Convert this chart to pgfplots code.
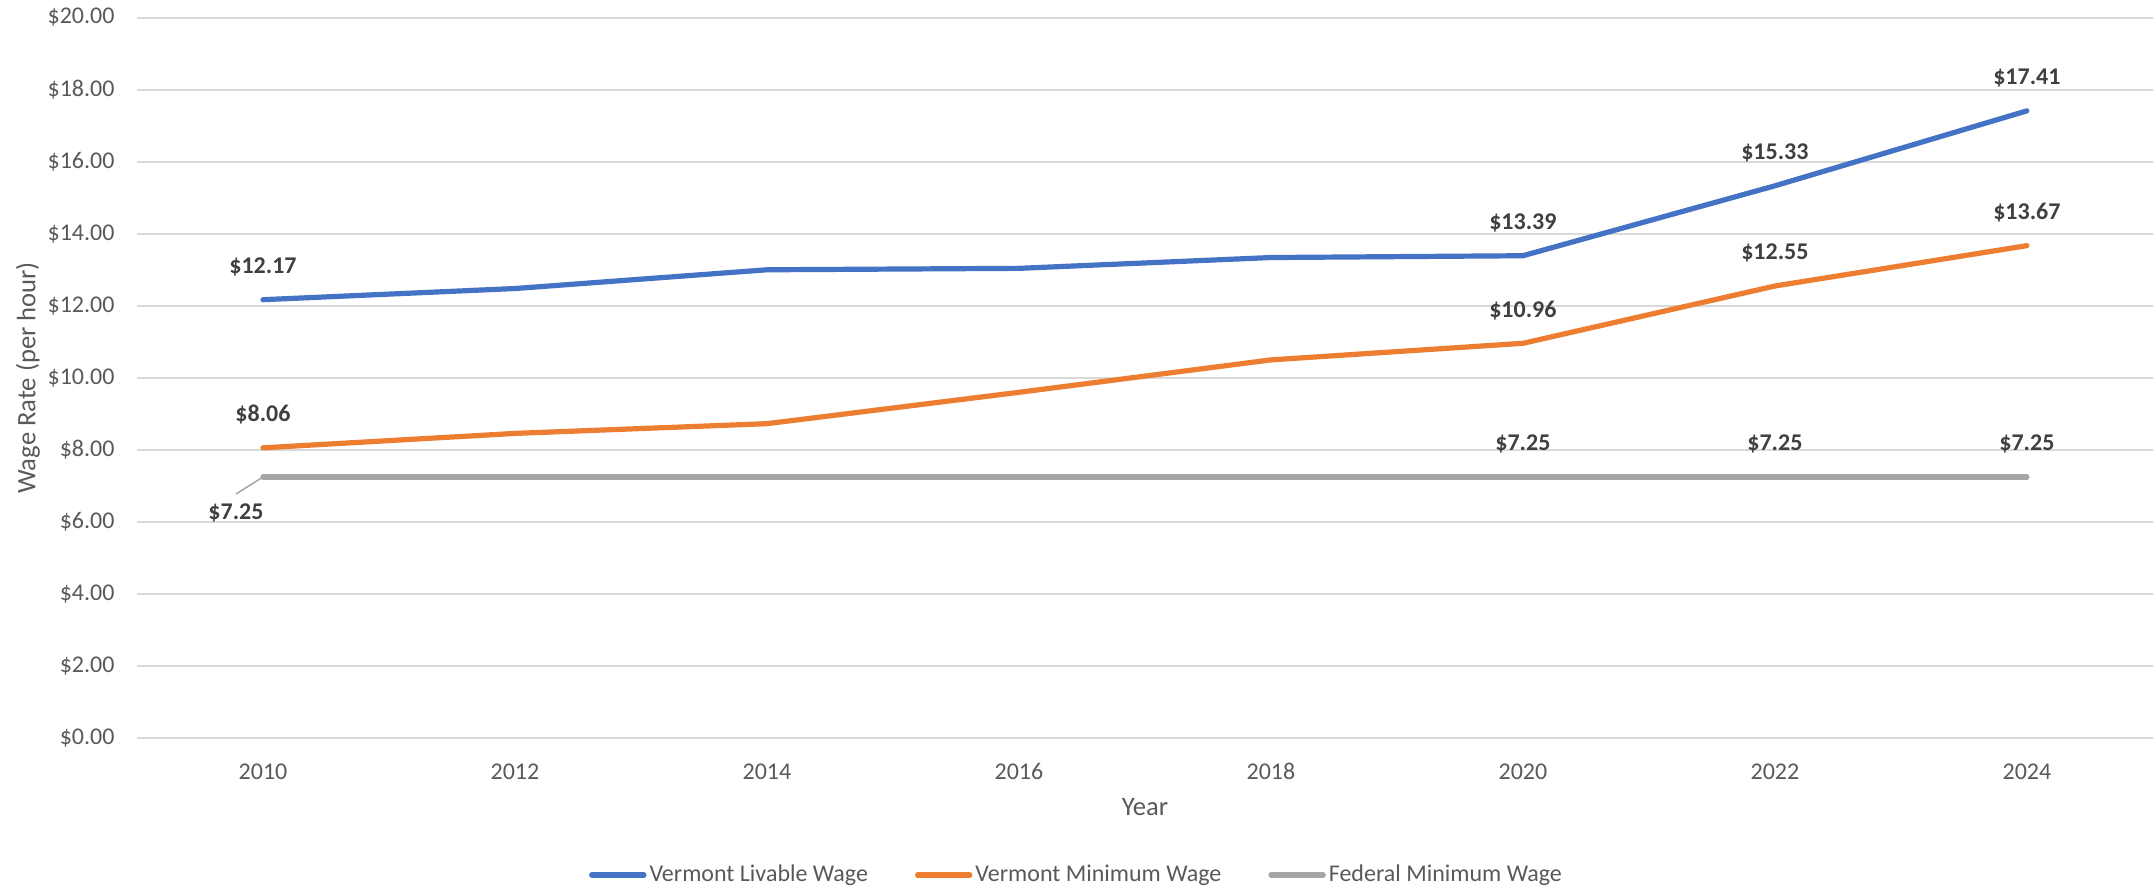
\documentclass[border=0pt]{standalone}
\usepackage{fontspec}
\setmainfont{Carlito}
\usepackage{pgfplots}
\pgfplotsset{compat=1.18}
\definecolor{cblue}{HTML}{4472C4}
\definecolor{corange}{HTML}{ED7D31}
\definecolor{cgray}{HTML}{A5A5A5}
\definecolor{gridc}{HTML}{D9D9D9}
\definecolor{tickc}{HTML}{595959}
\definecolor{labc}{HTML}{404040}
\begin{document}
\begin{tikzpicture}
\useasboundingbox (0,0) rectangle (1077.5pt,445.5pt);
\begin{axis}[
  at={(68.5pt,76.35pt)}, anchor=south west,
  scale only axis, width=1008pt, height=360.4pt,
  xmin=-0.5, xmax=7.5, ymin=0, ymax=20,
  xtick={0,1,2,3,4,5,6,7},
  xticklabels={2010,2012,2014,2016,2018,2020,2022,2024},
  ytick={0,2,4,6,8,10,12,14,16,18,20},
  yticklabels={\$0.00,\$2.00,\$4.00,\$6.00,\$8.00,\$10.00,\$12.00,\$14.00,\$16.00,\$18.00,\$20.00},
  ymajorgrids, major grid style={gridc, line width=1pt},
  axis line style={draw=none}, major tick length=0pt,
  /pgf/number format/assume math mode=true,
  tick label style={font=\fontsize{12}{14}\selectfont, text=tickc},
  xticklabel style={anchor=center, yshift=-16.5pt},
  yticklabel style={anchor=east, xshift=-7.7pt},
  xlabel={Year}, ylabel={Wage Rate (per hour)},
  label style={font=\fontsize{13.3}{16}\selectfont, text=tickc},
  xlabel style={at={(axis description cs:0.5,-0.0953)}, anchor=center},
  ylabel style={at={(axis description cs:-0.05407,0.5)}, anchor=center},
  clip=false,
  legend style={at={(0.4663,-0.1897)}, anchor=center, legend columns=3, draw=none, fill=none,
    font=\fontsize{12}{14}\selectfont, text=tickc,
    /tikz/every even column/.append style={column sep=22pt},
    nodes={inner xsep=1.5pt}},
  legend image code/.code={\draw[#1, line width=2.7pt, line cap=round] (0pt,0pt) -- (26pt,0pt);},
  point meta=explicit symbolic,
  nodes near coords,
  nodes near coords style={anchor=center, yshift=16.5pt, font=\bfseries\fontsize{12}{14}\selectfont, text=labc},
]
\addplot[cblue, line width=2.6pt, line cap=round, line join=round] coordinates {
  (0,12.17) [\$12.17]
  (1,12.48) [{}]
  (2,13.00) [{}]
  (3,13.04) [{}]
  (4,13.34) [{}]
  (5,13.39) [\$13.39]
  (6,15.33) [\$15.33]
  (7,17.41) [\$17.41]
};
\addlegendentry{Vermont Livable Wage}
\addplot[corange, line width=2.6pt, line cap=round, line join=round] coordinates {
  (0,8.06) [\$8.06]
  (1,8.46) [{}]
  (2,8.73) [{}]
  (3,9.60) [{}]
  (4,10.50) [{}]
  (5,10.96) [\$10.96]
  (6,12.55) [\$12.55]
  (7,13.67) [\$13.67]
};
\addlegendentry{Vermont Minimum Wage}
\addplot[cgray, line width=2.6pt, line cap=round, line join=round] coordinates {
  (0,7.25) [{}]
  (1,7.25) [{}]
  (2,7.25) [{}]
  (3,7.25) [{}]
  (4,7.25) [{}]
  (5,7.25) [\$7.25]
  (6,7.25) [\$7.25]
  (7,7.25) [\$7.25]
};
\addlegendentry{Federal Minimum Wage}
\draw[cgray, line width=0.75pt] (axis cs:0,7.25) -- ++(-13.5pt,-8.5pt);
\node[font=\bfseries\fontsize{12}{14}\selectfont, text=labc, xshift=-13.5pt, yshift=-18pt] at (axis cs:0,7.25) {\$7.25};
\end{axis}
\end{tikzpicture}
\end{document}
